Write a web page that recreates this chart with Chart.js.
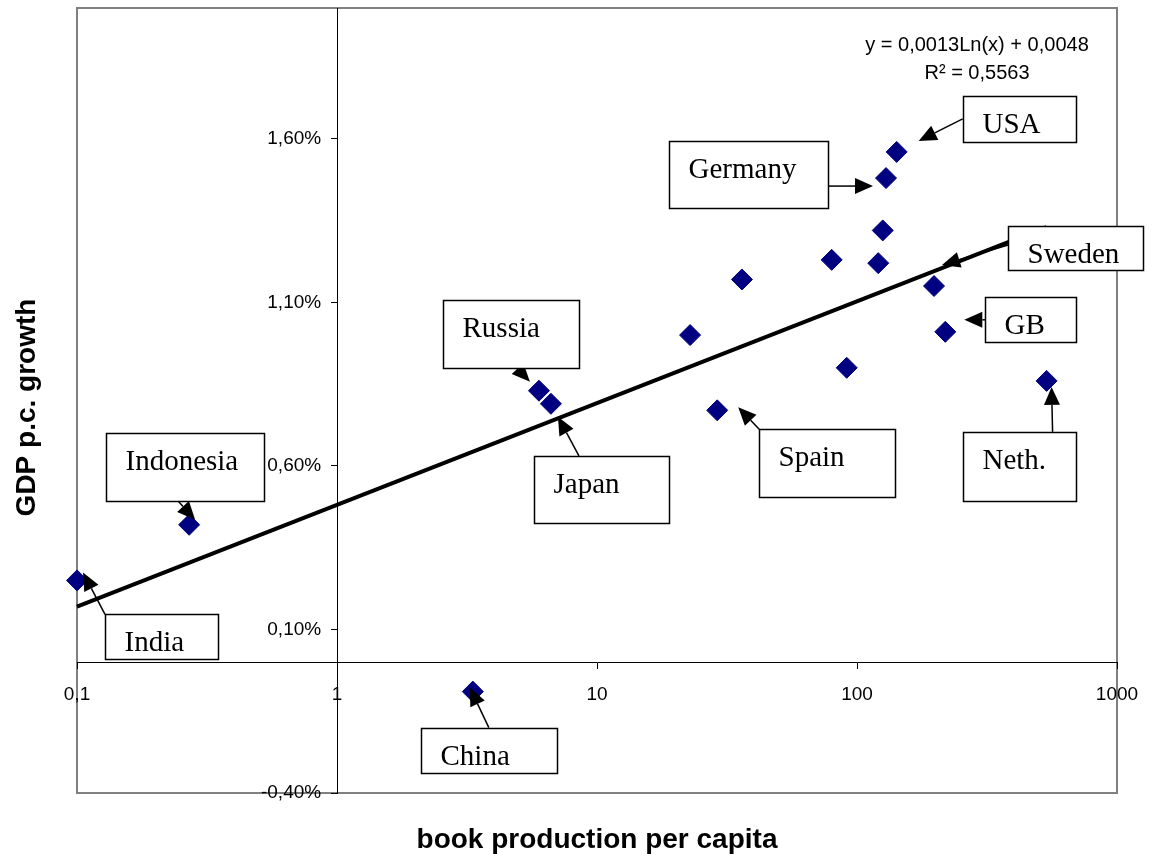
<!DOCTYPE html>
<html>
<head>
<meta charset="utf-8">
<title>GDP p.c. growth vs book production per capita</title>
<script src="https://cdn.jsdelivr.net/npm/chart.js@4"></script>
<style>
  body { margin: 0; background: #fff; }
  canvas { display: block; }
</style>
</head>
<body>
<canvas id="chart" width="1152" height="854"></canvas>
<script>
// book production per capita (log scale) and GDP p.c. growth in %
const bookProduction = [0.1, 0.27, 3.33, 5.98, 6.65, 22.8, 29.0, 36.1, 79.9, 91.3, 120.7, 125.6, 129.3, 142.1, 197.8, 218.6, 536];
const gdpGrowth      = [0.25, 0.42, -0.09, 0.83, 0.79, 1.00, 0.77, 1.17, 1.23, 0.90, 1.22, 1.32, 1.48, 1.56, 1.15, 1.01, 0.86];
const pointNames     = ['India', 'Indonesia', 'China', 'Russia', 'Japan', '', 'Spain', '', '', '', '', '', 'Germany', 'USA', 'Sweden', 'GB', 'Neth.'];

const trendX = [0.1, 536];
const trendY = [0.17, 1.33];

const xTicks = [0.1, 1, 10, 100, 1000];
const yTicks = [-0.4, 0.1, 0.6, 1.1, 1.6];

const equationLines = ['y = 0,0013Ln(x) + 0,0048', 'R\u00b2 = 0,5563'];

// callout boxes: offsets in px from the labelled point
// box = [dx, dy, w, h], arrow from -> to
const callouts = [
  { name: 'USA',       box: [66, -56, 113, 46],   from: [66, -33],  to: [22, -11] },
  { name: 'Germany',   box: [-217, -37, 159, 67], from: [-58, 8],   to: [-13, 8] },
  { name: 'Sweden',    box: [74, -60, 135, 44],   from: [74, -41],  to: [8, -21] },
  { name: 'GB',        box: [40, -35, 91, 45],    from: [40, -12],  to: [19, -12] },
  { name: 'Neth.',     box: [-84, 51, 113, 69],   from: [6, 51],    to: [5, 6] },
  { name: 'Spain',     box: [42, 19, 136, 68],    from: [42, 19],   to: [21, -3] },
  { name: 'Russia',    box: [-96, -91, 136, 68],  from: [-27, -28], to: [-9, -9] },
  { name: 'Japan',     box: [-17, 52, 135, 67],   from: [28, 52],   to: [7, 13] },
  { name: 'Indonesia', box: [-83, -92, 158, 68],  from: [-15, -28], to: [6, -5] },
  { name: 'India',     box: [28, 34, 113, 45],    from: [28, 34],   to: [6, -8] },
  { name: 'China',     box: [-52, 36, 136, 45],   from: [16, 36],   to: [-3, -4] }
];

Chart.defaults.font.family = 'Liberation Sans';
Chart.defaults.color = '#000';

function drawArrow(ctx, x1, y1, x2, y2) {
  const ang = Math.atan2(y2 - y1, x2 - x1);
  const len = 18, hw = 8;
  const bx = x2 - len * Math.cos(ang), by = y2 - len * Math.sin(ang);
  ctx.beginPath();
  ctx.moveTo(x1, y1);
  ctx.lineTo(bx, by);
  ctx.stroke();
  ctx.beginPath();
  ctx.moveTo(x2, y2);
  ctx.lineTo(bx + hw * Math.sin(ang), by - hw * Math.cos(ang));
  ctx.lineTo(bx - hw * Math.sin(ang), by + hw * Math.cos(ang));
  ctx.closePath();
  ctx.fill();
}

// axes sit inside the plot, so keep their label padding out of the layout
function noPadding(s) {
  s.paddingTop = 0;
  s.paddingBottom = 0;
  s.paddingLeft = 0;
  s.paddingRight = 0;
}

const decor = {
  id: 'decor',
  beforeDraw(chart) {
    const { ctx, chartArea: a } = chart;
    ctx.save();
    ctx.strokeStyle = '#808080';
    ctx.lineWidth = 2;
    ctx.strokeRect(a.left, a.top, a.right - a.left, a.bottom - a.top);
    ctx.restore();
  },
  afterDraw(chart) {
    const { ctx, chartArea: a } = chart;
    const sx = chart.scales.x, sy = chart.scales.y;
    ctx.save();

    // axis titles
    ctx.fillStyle = '#000';
    ctx.font = 'bold 28px "Liberation Sans"';
    ctx.textAlign = 'center';
    ctx.textBaseline = 'alphabetic';
    ctx.fillText('book production per capita', (a.left + a.right) / 2, 848);
    ctx.save();
    ctx.translate(35, (a.top + a.bottom) / 2 + 7);
    ctx.rotate(-Math.PI / 2);
    ctx.fillText('GDP p.c. growth', 0, 0);
    ctx.restore();

    // trendline equation
    ctx.font = '20px "Liberation Sans"';
    ctx.textBaseline = 'middle';
    ctx.fillText(equationLines[0], 977, 45);
    ctx.fillText(equationLines[1], 977, 73);

    // callouts
    ctx.lineWidth = 1.5;
    ctx.strokeStyle = '#000';
    callouts.forEach(c => {
      const i = pointNames.indexOf(c.name);
      const px = sx.getPixelForValue(bookProduction[i]);
      const py = sy.getPixelForValue(gdpGrowth[i]);
      drawArrow(ctx, px + c.from[0], py + c.from[1], px + c.to[0], py + c.to[1]);
    });
    callouts.forEach(c => {
      const i = pointNames.indexOf(c.name);
      const px = sx.getPixelForValue(bookProduction[i]);
      const py = sy.getPixelForValue(gdpGrowth[i]);
      const bx = Math.round(px + c.box[0]) + 0.5, by = Math.round(py + c.box[1]) + 0.5;
      const w = c.box[2], h = c.box[3];
      ctx.fillStyle = '#fff';
      ctx.fillRect(bx, by, w, h);
      ctx.strokeRect(bx, by, w, h);
      ctx.save();
      ctx.beginPath();
      ctx.rect(bx + 1, by + 1, w - 2, h - 2);
      ctx.clip();
      ctx.fillStyle = '#000';
      ctx.font = '29px "Liberation Serif"';
      ctx.textAlign = 'left';
      ctx.textBaseline = 'alphabetic';
      ctx.fillText(c.name, bx + 19, by + 36);
      ctx.restore();
    });
    ctx.restore();
  }
};

const tickFont = { family: 'Liberation Sans', size: 19 };

new Chart(document.getElementById('chart'), {
  type: 'scatter',
  data: {
    datasets: [
      {
        label: 'trend',
        data: trendX.map((x, i) => ({ x: x, y: trendY[i] })),
        showLine: true,
        borderColor: '#000',
        borderWidth: 4,
        pointRadius: 0,
        clip: false
      },
      {
        label: 'countries',
        data: bookProduction.map((x, i) => ({ x: x, y: gdpGrowth[i] })),
        pointStyle: 'rectRot',
        pointRadius: 10.5,
        backgroundColor: '#000080',
        borderColor: '#000080',
        borderWidth: 1,
        clip: false
      }
    ]
  },
  options: {
    responsive: false,
    animation: false,
    layout: { autoPadding: false, padding: { left: 77, right: 35, top: 8, bottom: 61 } },
    plugins: {
      legend: { display: false },
      tooltip: { enabled: false }
    },
    scales: {
      x: {
        type: 'logarithmic',
        min: 0.1,
        max: 1000,
        position: { y: 0 },
        afterBuildTicks: s => { s.ticks = xTicks.map(v => ({ value: v })); },
        afterFit: noPadding,
        ticks: {
          callback: v => String(v).replace('.', ','),
          font: tickFont,
          color: '#000',
          padding: 15,
          maxRotation: 0,
          autoSkip: false
        },
        grid: { drawOnChartArea: false, drawTicks: true, tickLength: 6, color: '#000', lineWidth: 1 },
        border: { color: '#000', width: 1 }
      },
      y: {
        type: 'linear',
        min: -0.4,
        max: 2.0,
        position: { x: 1 },
        afterBuildTicks: s => { s.ticks = yTicks.map(v => ({ value: v })); },
        afterFit: noPadding,
        ticks: {
          // trailing spaces keep the right-aligned labels clear of the axis
          callback: v => v.toFixed(2).replace('.', ',') + '%   ',
          font: tickFont,
          color: '#000',
          autoSkip: false
        },
        grid: { drawOnChartArea: false, drawTicks: true, tickLength: 6, color: '#000', lineWidth: 1 },
        border: { color: '#000', width: 1 }
      }
    }
  },
  plugins: [decor]
});
</script>
</body>
</html>
